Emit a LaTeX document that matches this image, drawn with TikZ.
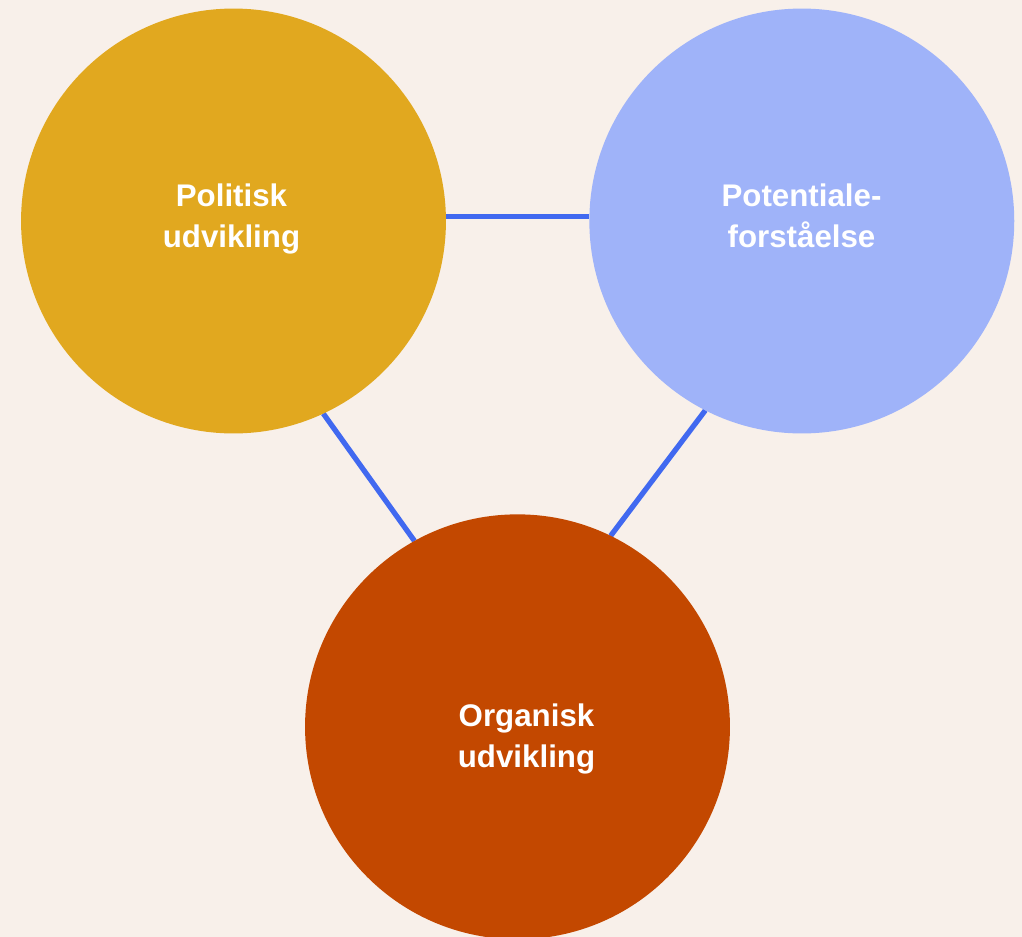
\documentclass[tikz,border=0pt]{standalone}
\usepackage{fontspec}
\setmainfont{Liberation Sans}
\usetikzlibrary{backgrounds}
\definecolor{bgc}{HTML}{F8F0EA}
\definecolor{goldc}{HTML}{E1A81F}
\definecolor{lavc}{HTML}{9FB3F9}
\definecolor{rustc}{HTML}{C34800}
\definecolor{linkc}{HTML}{4169F0}
\tikzset{
  bubble/.style={circle, minimum size=8.5cm, inner sep=0pt, outer sep=0pt, draw=none},
  label/.style={text=white, font=\fontsize{17.8pt}{23.2pt}\selectfont\bfseries, align=center, inner sep=0pt},
  link/.style={draw=linkc, line width=3pt}
}
\begin{document}
\begin{tikzpicture}[x=0.02cm, y=-0.02cm]
\useasboundingbox (0,0) rectangle (1022,937);
\node[bubble, fill=goldc] (L) at (233.5,221) {};
\node[bubble, fill=lavc] (R) at (801.8,221) {};
\node[bubble, fill=rustc] (B) at (517.5,726.8) {};
\node[label] (tl) at (231.5,218.75) {Politisk\\udvikling};
\node[label] (tr) at (801.5,215.5) {Potentiale-\\forståelse};
\node[label] (tb) at (526.5,739) {Organisk\\udvikling};
\begin{pgfonlayer}{background}
\fill[bgc] (0,0) rectangle (1022,937);
\draw[link] ([yshift=0.09cm]L.east) -- ([yshift=0.09cm]R.west);
\draw[link] (L.-65.9) -- (B.119.3);
\draw[link] (R.-117.9) -- (B.64);
\end{pgfonlayer}
\end{tikzpicture}
\end{document}
